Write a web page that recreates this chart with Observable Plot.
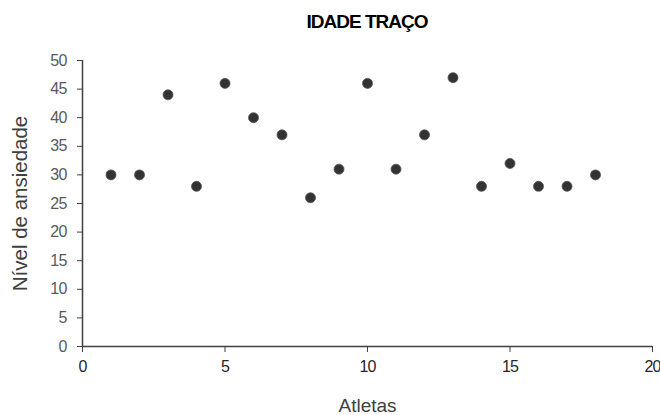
<!DOCTYPE html>
<html>
<head>
<meta charset="utf-8">
<script src="https://cdn.jsdelivr.net/npm/d3@7"></script>
<script src="https://cdn.jsdelivr.net/npm/@observablehq/plot@0.6"></script>
<style>
  body { margin: 0; background: #fff; }
  #title { height: 45px; width: 660px; box-sizing: border-box; padding-left: 74px; padding-top: 11px;
    text-align: center; font: bold 19px "Liberation Sans", Arial, sans-serif; color: #000; letter-spacing: -1px; line-height: 22px; }
  #chart { position: relative; }
  #chart svg g[aria-label="x-axis tick label"] text,
  #chart svg g[aria-label="y-axis tick label"] text { letter-spacing: -0.8px; }
</style>
</head>
<body>
<div id="title">IDADE TRAÇO</div>
<div id="chart"></div>
<script>
const atletas = [1, 2, 3, 4, 5, 6, 7, 8, 9, 10, 11, 12, 13, 14, 15, 16, 17, 18];
const ansiedade = [30, 30, 44, 28, 46, 40, 37, 26, 31, 46, 31, 37, 47, 28, 32, 28, 28, 30];
const xTicks = [0, 5, 10, 15, 20];
const yTicks = [0, 5, 10, 15, 20, 25, 30, 35, 40, 45, 50];
const data = atletas.map((a, i) => ({atleta: a, nivel: ansiedade[i]}));

const font = '"Liberation Sans", Arial, sans-serif';
const plot = Plot.plot({
  width: 660,
  height: 370,
  marginTop: 15,
  marginBottom: 69,
  marginLeft: 82,
  marginRight: 8,
  style: {fontFamily: font, fontSize: "15px", color: "#595959", background: "#fff", overflow: "visible"},
  x: {domain: [0, 20], ticks: xTicks, label: null},
  y: {domain: [0, 50], ticks: yTicks, label: null},
  marks: [
    Plot.axisX({ticks: xTicks, tickSize: 6, tickPadding: 8, stroke: "#404040", fill: "#262626", fontSize: 16, label: null}),
    Plot.axisY({ticks: yTicks, tickSize: 5, tickPadding: 11, stroke: "#404040", fill: "#595959", fontSize: 16, label: null}),
    Plot.ruleX([0], {stroke: "#404040", strokeWidth: 1.5}),
    Plot.ruleY([0], {stroke: "#404040", strokeWidth: 1.5}),
    Plot.dot(data, {x: "atleta", y: "nivel", r: 5, fill: "#333333", stroke: "#555", strokeWidth: 0.8}),
    Plot.text(["Atletas"], {frameAnchor: "bottom", dy: 65, fontSize: 19, fill: "#404040", fontFamily: font}),
    Plot.text(["Nível de ansiedade"], {frameAnchor: "left", textAnchor: "middle", dx: -62, rotate: -90, fontSize: 20.5, fill: "#404040", fontFamily: font})
  ]
});
document.getElementById("chart").appendChild(plot);
</script>
</body>
</html>
